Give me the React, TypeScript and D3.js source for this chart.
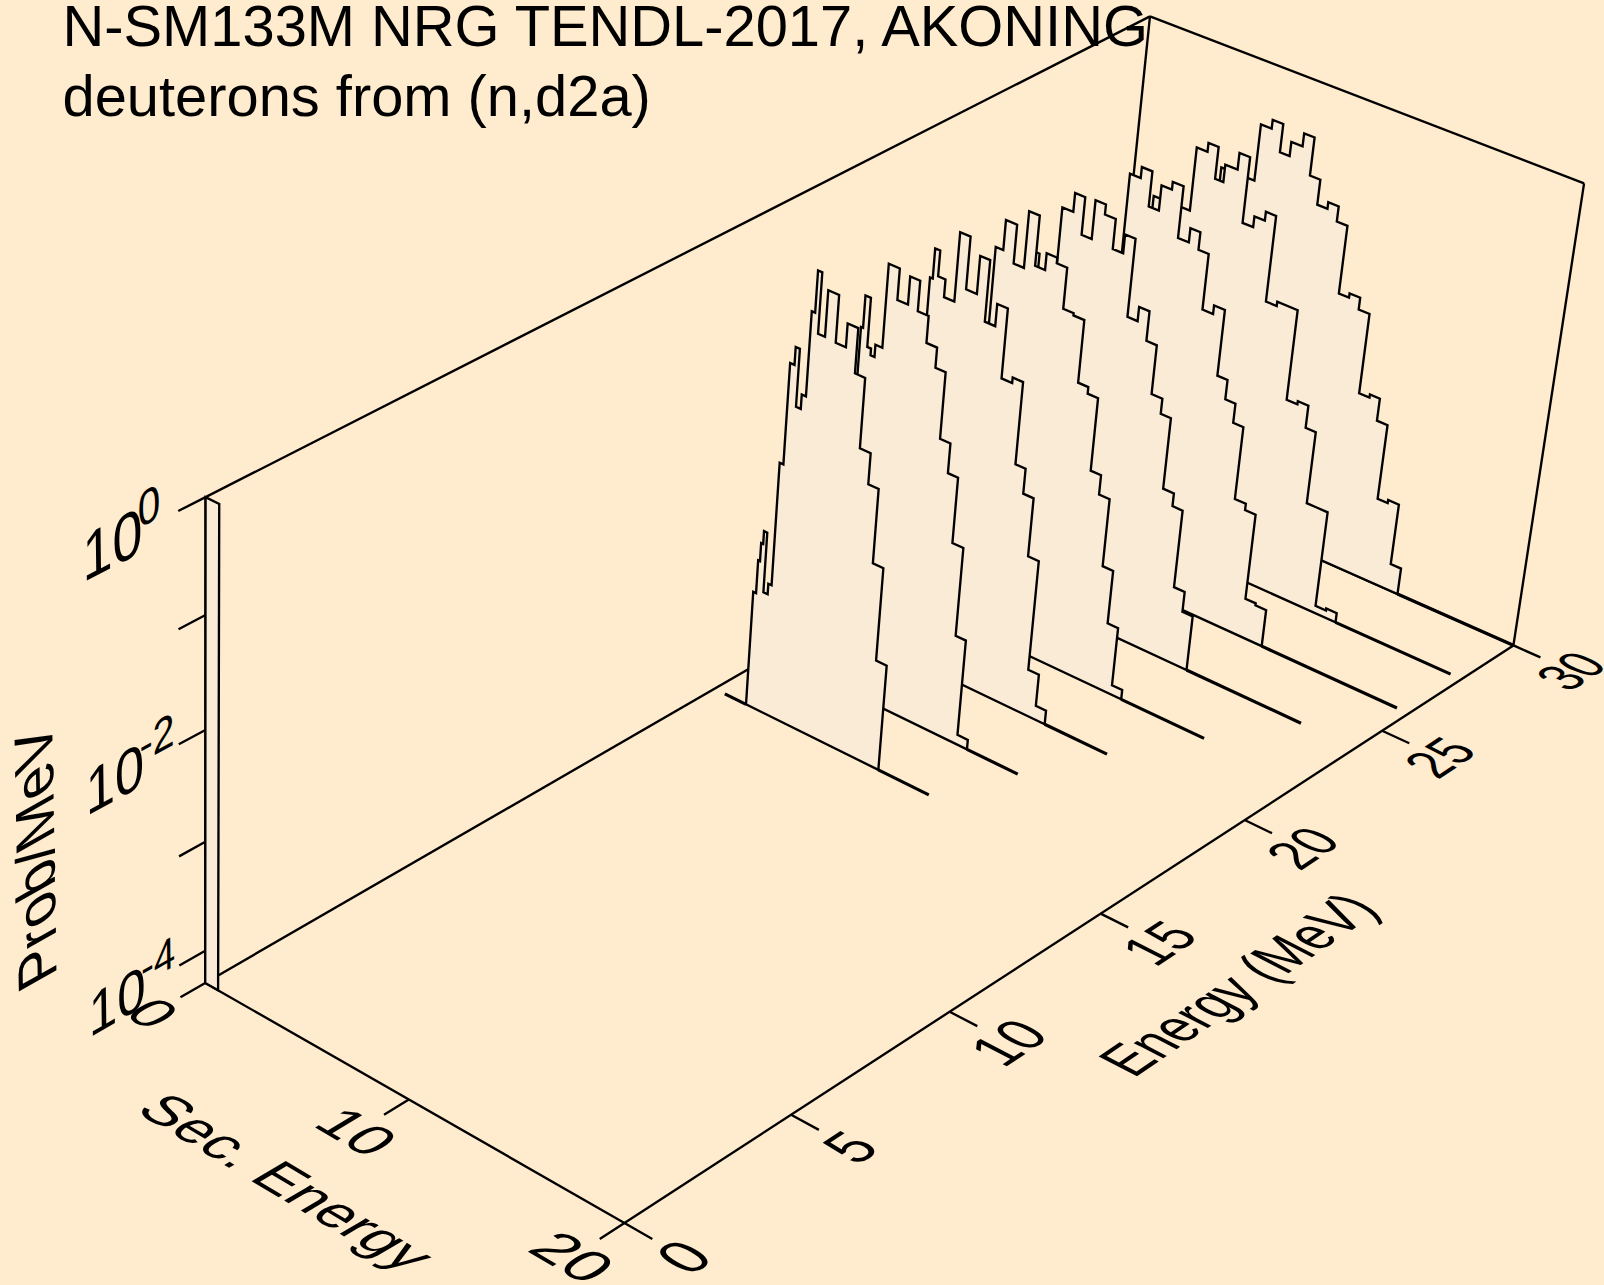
import React from "react";
import * as d3 from "d3";

const W = 1604, H = 1285;

// Incident energies (MeV) of the spectra, front to back
const incident = [16, 18, 20, 22, 24, 26, 28, 30];
// Range of the zero-probability baseline of each spectrum (secondary energy, MeV)
const baseStart = [0.52, 0.35, 0.45, 0.63, 0.86, 1.13, 0.95, 0.82];
const baseEnd = [10.58, 12.05, 13.58, 15.52, 17.49, 19.45, 19.49, 19.99];

// Secondary-energy bin edges and log10(Prob/MeV) of each spectrum
const edges16 = [1.59,1.73,1.82,1.92,2.08,2.29,2.45,2.63,2.84,3.04,3.27,3.47,3.63,3.83,4.16,4.67,5.15,5.65,6.13,6.64,7.13,7.63,8.14];
const log16 = [-3.22,-2.91,-2.74,-2.62,-3.18,-3.08,-1.94,-1.02,-0.86,-1.38,-1.25,-0.49,-0.12,-0.66,-0.25,-0.67,-0.46,-0.86,-1.49,-1.77,-2.45,-3.31];
const edges18 = [3.09,3.19,3.45,3.63,3.82,4.15,4.67,5.17,5.64,6.15,6.65,7.13,7.62,8.10,8.62,9.11,9.61];
const log18 = [-0.95,-0.66,-1.10,-1.16,-1.05,-0.30,-0.58,-0.33,-0.60,-0.84,-1.02,-1.62,-1.89,-2.49,-3.31,-4.21];
const edges20 = [3.46,3.59,3.83,4.18,4.67,5.16,5.67,6.14,6.63,7.13,7.63,8.12,8.60,9.09,9.60,10.11,10.60];
const log20 = [-0.76,-0.49,-0.72,-0.88,-0.26,-0.73,-0.39,-0.94,-0.74,-1.37,-1.32,-2.07,-2.30,-2.84,-3.87,-4.17];
const edges22 = [3.79,4.15,4.68,5.17,5.67,6.14,6.64,7.13,7.62,8.13,8.61,9.10,9.59,10.09,10.59,11.09,11.58];
const log22 = [-0.74,-0.47,-0.82,-0.31,-0.76,-0.61,-0.66,-1.03,-1.05,-1.62,-1.68,-2.35,-2.53,-3.16,-3.66,-4.21];
const edges24 = [3.10,3.32,4.17,4.69,5.17,5.65,6.14,6.65,7.14,7.63,8.11,8.60,9.09,9.60,10.08,10.59,11.07,11.58,12.07];
const log24 = [-1.12,-1.30,-0.63,-0.46,-0.80,-0.45,-0.54,-0.81,-0.64,-1.35,-1.22,-1.49,-1.94,-2.08,-2.74,-2.86,-3.59,-3.78];
const edges26 = [4.66,5.17,5.67,6.15,6.64,7.15,7.66,8.13,8.61,9.11,9.62,10.10,10.58,11.06,11.58,12.08,12.57,13.08];
const log26 = [-0.56,-0.46,-0.78,-0.55,-0.48,-0.95,-0.82,-0.98,-1.49,-1.41,-2.02,-2.20,-2.38,-3.06,-3.12,-3.93,-3.95];
const edges28 = [3.45,5.19,5.70,6.18,6.57,7.15,7.65,8.15,8.64,9.12,9.63,10.59,11.10,11.60,12.08,12.55,13.07,13.57,14.07];
const log28 = [-1.13,-0.55,-0.47,-0.76,-0.60,-0.45,-1.05,-0.95,-0.87,-1.66,-1.62,-2.46,-2.43,-2.64,-3.32,-3.32,-4.23,-4.21];
const edges30 = [4.07,5.66,6.17,6.67,7.13,7.66,8.15,8.64,9.12,9.61,10.11,10.59,11.09,11.60,12.09,12.56,13.06,13.54,14.05,14.54];
const log30 = [-1.09,-0.57,-0.49,-0.75,-0.62,-0.50,-0.85,-1.08,-1.02,-1.16,-1.79,-1.75,-1.86,-2.61,-2.58,-2.79,-3.50,-3.47,-4.05];
const allEdges = [edges16, edges18, edges20, edges22, edges24, edges26, edges28, edges30];
const allLogs = [log16, log18, log20, log22, log24, log26, log28, log30];

// Low-energy spectrum standing against the front wall
const lowSpectrumEdges = [0, 0.65];
const lowSpectrumLog = [0];

const secTicks = [0, 10, 20];
const energyTicks = [0, 5, 10, 15, 20, 25, 30];
const probTicks = [0, -1, -2, -3, -4];
const probLabels = [0, -2, -4];
const titleLines = ["N-SM133M NRG TENDL-2017, AKONING", "deuterons from (n,d2a)"];

const FLOOR = -4.301; // log10(5e-5)

// Perspective calibration of the 3-D box: [sec, energy, log10 prob, screen x, screen y]
const cal: number[][] = [
  [0,0,FLOOR,205.5,984],[20,0,FLOOR,624,1223.3],[20,30,FLOOR,1513.3,645],[10,0,FLOOR,408.5,1098.3],
  [20,5,FLOOR,790.6,1115],[20,10,FLOOR,949.8,1011.7],[20,15,FLOOR,1100.8,913.3],[20,20,FLOOR,1244.9,820],[20,25,FLOOR,1382.7,730.7],
  [0,0,0,205.5,496.7],[0,0,-1,205.5,615],[0,0,-2,205.5,730.4],[0,0,-3,205.5,841.5],[0,0,-4,205.5,950.7],
  [0,30,0,1150,15.7],[20,30,0,1584,184.3],[0,30,FLOOR,1103.3,464.3],
];
const sS = d3.scaleLinear().domain([0,20]).range([0,1]);
const sE = d3.scaleLinear().domain([0,30]).range([0,1]);
const sZ = d3.scaleLinear().domain([FLOOR,0]).range([0,1]);

function solveCam(): number[] {
  const n = 11; const A = Array.from({length:n},()=>new Array(n).fill(0)); const b = new Array(n).fill(0);
  const add=(r:number[],v:number)=>{for(let i=0;i<n;i++){b[i]+=r[i]*v;for(let j=0;j<n;j++)A[i][j]+=r[i]*r[j];}};
  for(const [s,e,l,x0,y0] of cal){const u=sS(s),v=sE(e),w=sZ(l),x=x0/1000,y=y0/1000;
    add([u,v,w,1,0,0,0,0,-x*u,-x*v,-x*w],x);add([0,0,0,0,u,v,w,1,-y*u,-y*v,-y*w],y);}
  for(let i=0;i<n;i++){let p=i;for(let r=i+1;r<n;r++)if(Math.abs(A[r][i])>Math.abs(A[p][i]))p=r;
    [A[i],A[p]]=[A[p],A[i]];[b[i],b[p]]=[b[p],b[i]];
    for(let r=i+1;r<n;r++){const f=A[r][i]/A[i][i];for(let c=i;c<n;c++)A[r][c]-=f*A[i][c];b[r]-=f*b[i];}}
  const m=new Array(n).fill(0);for(let i=n-1;i>=0;i--){let t=b[i];for(let c=i+1;c<n;c++)t-=A[i][c]*m[c];m[i]=t/A[i][i];}
  return m;
}
const M = solveCam();
function proj(s:number,e:number,l:number):[number,number]{const u=sS(s),v=sE(e),w=sZ(l);
  const d=M[8]*u+M[9]*v+M[10]*w+1;
  return [1000*(M[0]*u+M[1]*v+M[2]*w+M[3])/d,1000*(M[4]*u+M[5]*v+M[6]*w+M[7])/d];}

const line = d3.line();
function curvePath(e:number,ed:number[],vals:number[]){
  const pts:[number,number][]=[proj(ed[0],e,FLOOR)];
  vals.forEach((v,i)=>{pts.push(proj(ed[i],e,v));pts.push(proj(ed[i+1],e,v));});
  pts.push(proj(ed[ed.length-1],e,FLOOR));
  return line(pts)+"Z";
}
function basePath(e:number,a:number,b:number){return line([proj(a,e,FLOOR),proj(b,e,FLOOR)]) as string;}

// text lying in a plane of the box: baseline along axis bAxis, glyph-up along axis uAxis (1=sec,2=energy,3=prob)
function lab(t:string,a:number[],bAxis:number,uAxis:number,em:number[],key?:string,scale=1,dx=0,dy=0){
  const step=(p:number[],ax:number,sign:number)=>{const q=[...p];q[ax]+=sign;return q;};
  const p0=proj(a[0],a[1],a[2]);
  const bs=bAxis<0?-1:1,us=uAxis<0?-1:1;const ba=Math.abs(bAxis)-1,ua=Math.abs(uAxis)-1;
  const pb=step(a,ba,bs*em[ba]),pu=step(a,ua,us*em[ua]);
  const b=proj(pb[0],pb[1],pb[2]),u=proj(pu[0],pu[1],pu[2]);
  const k=scale/100;
  const bx=b[0]-p0[0],by=b[1]-p0[1],ux=u[0]-p0[0],uy=u[1]-p0[1];
  const x=p0[0]+bx*dx+ux*dy,y=p0[1]+by*dx+uy*dy;
  return <text key={key??t+a.join()} transform={`matrix(${bx*k},${by*k},${-ux*k},${-uy*k},${x},${y})`} fontSize={100} textRendering="geometricPrecision">{t}</text>;
}
const EM=[2.45,1.4,0.5];
const EMZ=[2.45,1.45,0.55];
const LW=2.35, BLW=3.2;
const BG="#FFEBCD", FILL="#FAEBD7";

export default function App(){
  const L=(a:number[],b:number[],k:string)=>{const p=proj(a[0],a[1],a[2]),q=proj(b[0],b[1],b[2]);return <line key={k} x1={p[0]} y1={p[1]} x2={q[0]} y2={q[1]} stroke="#000" strokeWidth={LW}/>;};
  const F=FLOOR;
  const low:[number,number][]=[proj(lowSpectrumEdges[0],0,F),proj(lowSpectrumEdges[0],0,lowSpectrumLog[0]),proj(lowSpectrumEdges[1],0,lowSpectrumLog[0]),proj(lowSpectrumEdges[1],0,F)];
  return <svg width={W} height={H} viewBox={`0 0 ${W} ${H}`} style={{position:"absolute",left:0,top:0,display:"block"}} fontFamily="'Liberation Sans'" fill="#000">
    <rect width={W} height={H} fill={BG}/>
    {titleLines.map((t,i)=><text key={t} x={62.5} y={46+70*i} fontSize={57.85}>{t}</text>)}
    {L([0,0,F],[20,0,F],"a")}{L([20,0,F],[20,30,F],"b")}{L([0,0,F],[0,30,F],"c")}{L([0,30,F],[20,30,F],"d")}
    {L([20,30,F],[20,30,0],"e")}{L([20,30,0],[0,30,0],"f")}{L([0,30,0],[0,30,F],"g")}{L([0,30,0],[0,0,0],"h")}{L([0,0,0],[0,0,F],"i")}
    {probTicks.map(l=>L([0,0,l],[0,-0.75,l],"zt"+l))}
    {secTicks.map(s=>L([s,0,F],[s,-0.72,F],"st"+s))}
    {energyTicks.map(e=>L([20,e,F],[21.25,e,F],"et"+e))}
    {probLabels.map(l=><g key={l}>{lab("10",[0,-3.33,l-0.19],2,3,EMZ)}{lab(String(l),[0,-3.33,l-0.19],2,3,EMZ,"x"+l,0.75,1.03,0.38)}</g>)}
    {secTicks.map(s=>lab(String(s),[s-0.68*String(s).length,-2.0,F],1,2,EM))}
    {energyTicks.map(e=>lab(String(e),[23.5,e-0.39*String(e).length,F],2,-1,EM))}
    {lab("Sec. Energy",[3.7,-4.15,F],1,2,EM)}
    {lab("Energy (MeV)",[27.1,10.8,F],2,-1,[2.45,1.32,0.5])}
    {lab("Prob/MeV",[0,-4.2,-3.45],3,-2,[2.45,1.5,0.52])}
    <path d={line(low)+"Z"} fill={FILL} stroke="#000" strokeWidth={LW}/>
    {incident.map((_,i)=>incident.length-1-i).map(i=><g key={i}>
      <path d={curvePath(incident[i],allEdges[i],allLogs[i])} fill={FILL} stroke="#000" strokeWidth={LW} strokeLinejoin="miter"/>
      <path d={basePath(incident[i],baseStart[i],allEdges[i][0])} fill="none" stroke="#000" strokeWidth={BLW}/>
      <path d={basePath(incident[i],allEdges[i][allEdges[i].length-1],baseEnd[i])} fill="none" stroke="#000" strokeWidth={BLW}/>
    </g>)}
  </svg>;
}
